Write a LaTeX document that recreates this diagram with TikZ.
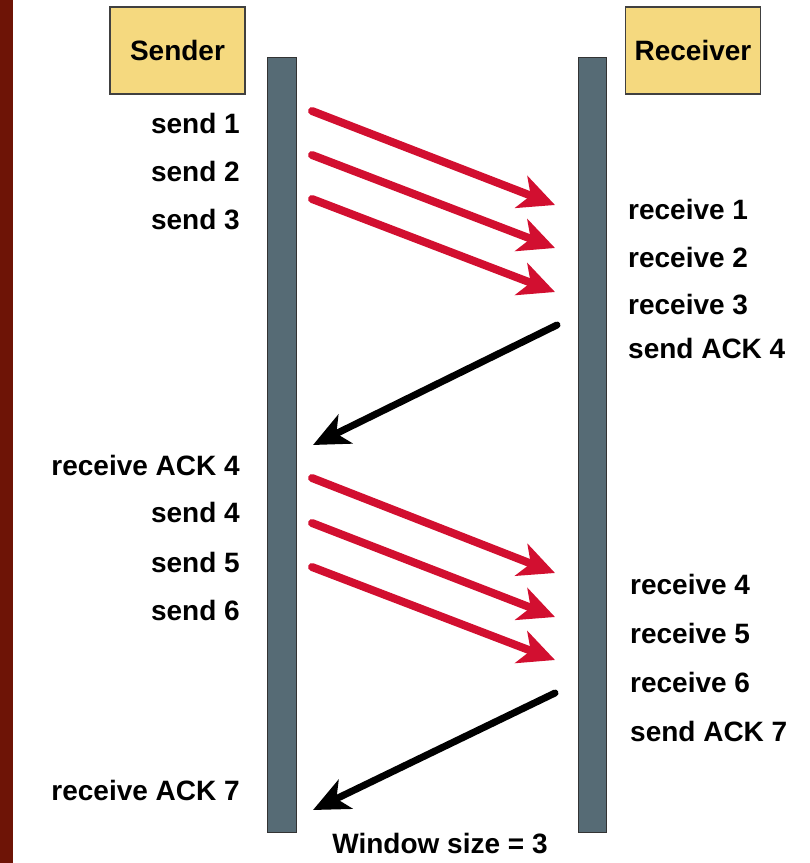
\documentclass[tikz,border=0pt]{standalone}
\usepackage{fontspec}
\setmainfont{Liberation Sans}
\usetikzlibrary{arrows.meta}
\definecolor{stripred}{HTML}{6E1406}
\definecolor{boxyellow}{HTML}{F5D97F}
\definecolor{barslate}{HTML}{566B75}
\definecolor{msgred}{HTML}{D20F30}
\begin{document}
\begin{tikzpicture}[x=1pt,y=-1pt,
  lbl/.style={font=\bfseries\fontsize{28}{32}\selectfont, inner sep=0pt},
  hdr/.style={draw=black!75, line width=1.2pt, fill=boxyellow, minimum width=135pt,
    minimum height=87pt, inner sep=0pt, font=\bfseries\fontsize{28}{32}\selectfont},
  lifebar/.style={draw=black!80, line width=1pt, fill=barslate, minimum width=29pt,
    minimum height=775pt, inner sep=0pt},
  msg/.style={draw=msgred, line width=8pt, line cap=round,
    -{Stealth[length=36pt,width=34pt,inset=10pt]}},
  ack/.style={draw=black, line width=7pt, line cap=round,
    -{Stealth[length=36pt,width=32pt,inset=10pt]}}]
\useasboundingbox (0,0) rectangle (810,863);
\fill[white] (0,0) rectangle (810,863);
\fill[stripred] (0,0) rectangle (13,863);

\node[hdr] (sender) at (177.5,50.5) {Sender};
\node[hdr] (receiver) at (693,50.5) {Receiver};
\node[lifebar] (sbar) at (281.5,444.5) {};
\node[lifebar, minimum width=28pt] (rbar) at (592,444.5) {};

% sender labels
\node[lbl, anchor=base east] (s1) at (240,133) {send 1};
\node[lbl, anchor=base east] (s2) at (240,181) {send 2};
\node[lbl, anchor=base east] (s3) at (240,229) {send 3};
\node[lbl, anchor=base east] (ra4) at (240,475) {receive ACK 4};
\node[lbl, anchor=base east] (s4) at (240,522) {send 4};
\node[lbl, anchor=base east] (s5) at (240,572) {send 5};
\node[lbl, anchor=base east] (s6) at (240,620) {send 6};
\node[lbl, anchor=base east] (ra7) at (240,800) {receive ACK 7};

% receiver labels
\node[lbl, anchor=base west] (r1) at (628,219) {receive 1};
\node[lbl, anchor=base west] (r2) at (628,267) {receive 2};
\node[lbl, anchor=base west] (r3) at (628,314) {receive 3};
\node[lbl, anchor=base west] (sa4) at (628,358) {send ACK 4};
\node[lbl, anchor=base west] (r4) at (630,594) {receive 4};
\node[lbl, anchor=base west] (r5) at (630,643) {receive 5};
\node[lbl, anchor=base west] (r6) at (630,692) {receive 6};
\node[lbl, anchor=base west] (sa7) at (630,741) {send ACK 7};

\node[lbl, anchor=base] (win) at (440,853) {Window size = 3};

% arrow end points
\coordinate (m1a) at (312,111); \coordinate (m1b) at (555,205);
\coordinate (m2a) at (312,155); \coordinate (m2b) at (555,248);
\coordinate (m3a) at (312,199); \coordinate (m3b) at (555,292);
\coordinate (m4a) at (312,478); \coordinate (m4b) at (555,573);
\coordinate (m5a) at (312,523); \coordinate (m5b) at (555,617);
\coordinate (m6a) at (312,567); \coordinate (m6b) at (555,660);
\coordinate (k4a) at (557,325); \coordinate (k4b) at (313,445);
\coordinate (k7a) at (555,693); \coordinate (k7b) at (313,810);

\draw[msg] (m1a) -- (m1b);
\draw[msg] (m2a) -- (m2b);
\draw[msg] (m3a) -- (m3b);
\draw[msg] (m4a) -- (m4b);
\draw[msg] (m5a) -- (m5b);
\draw[msg] (m6a) -- (m6b);
\draw[ack] (k4a) -- (k4b);
\draw[ack] (k7a) -- (k7b);
\end{tikzpicture}
\end{document}
